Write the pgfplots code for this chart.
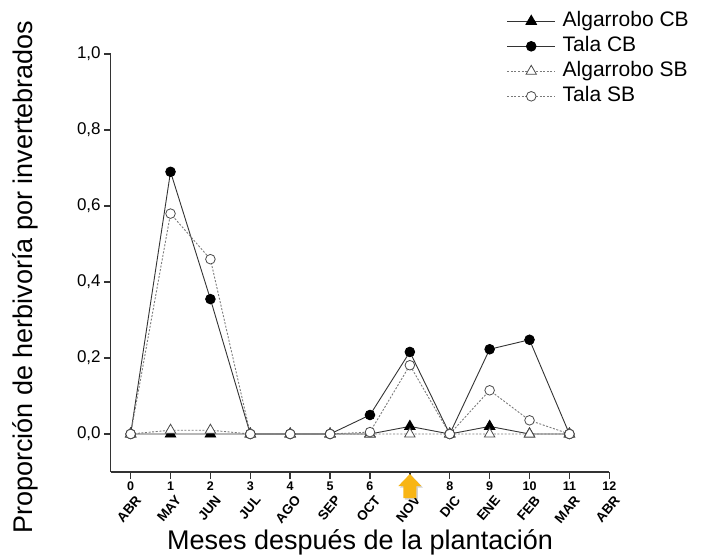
\documentclass[border=0pt]{standalone}
\usepackage{fontspec}
\setmainfont{Liberation Sans}
\usepackage{pgfplots}
\pgfplotsset{compat=1.18}
\definecolor{axisgray}{HTML}{333333}
\definecolor{sbgray}{HTML}{7A7A7A}
\definecolor{markgray}{HTML}{4A4A4A}
\definecolor{arrowgold}{HTML}{F8B514}

\begin{document}
\begin{tikzpicture}
\path[use as bounding box] (-110.7pt,-86pt) rectangle (594.3pt,472pt);
\begin{axis}[
  at={(0pt,0pt)}, anchor=south west,
  scale only axis, width=498.6pt, height=418pt,
  xmin=-0.5, xmax=12, ymin=-0.1, ymax=1.0,
  axis lines*=left,
  axis line style={axisgray, line width=1.6pt},
  tick align=outside,
  major tick length=6.5pt,
  tick style={axisgray, line width=1.4pt},
  xtick={0,...,12},
  xticklabels={0,1,2,3,4,5,6,{},8,9,10,11,12},
  xticklabel style={font=\bfseries\fontsize{12.5}{14}\selectfont, text=black},
  ytick={0,0.2,0.4,0.6,0.8,1.0},
  yticklabel style={font=\fontsize{17}{20}\selectfont, text=black,
    /pgf/number format/.cd, use comma, fixed, fixed zerofill, precision=1, assume math mode=true},
  extra x ticks={0,...,12},
  extra x tick labels={ABR,MAY,JUN,JUL,AGO,SEP,OCT,NOV,DIC,ENE,FEB,MAR,ABR},
  extra x tick style={major tick length=0pt,
    xticklabel style={xshift=10pt, yshift=-23pt, rotate=50, anchor=east,
      font=\bfseries\fontsize{13.5}{15}\selectfont}},
  xlabel={Meses después de la plantación},
  xlabel style={font=\fontsize{27}{30}\selectfont, at={(axis description cs:0.5,-0.186)}, anchor=base},
  ylabel={Proporción de herbivoría por invertebrados},
  ylabel style={font=\fontsize{27}{30}\selectfont, at={(axis description cs:-0.156,0.466)}, anchor=base, rotate=0},
  clip=false,
  legend style={at={(axis description cs:0.794,1.105)}, anchor=north west,
    draw=none, fill=none, inner sep=0pt,
    font=\fontsize{21}{24}\selectfont,
    nodes={inner sep=2pt, text height=14pt, text depth=4pt},
    /tikz/every odd column/.append style={column sep=5pt},
    row sep=3pt},
  legend cell align=left,
  legend image code/.code={%
    \draw[#1, mark repeat=2, mark phase=2] plot coordinates {(0pt,0pt) (24pt,0pt) (48pt,0pt)};},
]
% Algarrobo CB
\addplot[axisgray, line width=0.9pt, mark=triangle*, mark size=6pt,
  mark options={solid, fill=black, draw=black}]
  coordinates {(0,0) (1,0) (2,0) (3,0) (4,0) (5,0) (6,0) (7,0.02) (8,0) (9,0.02) (10,0) (11,0)};
\addlegendentry{Algarrobo CB}
% Tala CB
\addplot[axisgray, line width=0.9pt, mark=*, mark size=4.8pt,
  mark options={solid, fill=black, draw=black}]
  coordinates {(0,0) (1,0.69) (2,0.355) (3,0) (4,0) (5,0) (6,0.05) (7,0.216) (8,0) (9,0.223) (10,0.248) (11,0)};
\addlegendentry{Tala CB}
% Algarrobo SB
\addplot[sbgray, line width=0.9pt, dash pattern=on 2pt off 1.6pt, mark=triangle*, mark size=6pt,
  mark options={solid, fill=white, draw=markgray, line width=0.8pt}]
  coordinates {(0,0) (1,0.01) (2,0.01) (3,0) (4,0) (5,0) (6,0) (7,0) (8,0) (9,0) (10,0) (11,0)};
\addlegendentry{Algarrobo SB}
% Tala SB
\addplot[sbgray, line width=0.9pt, dash pattern=on 2pt off 1.6pt, mark=*, mark size=4.8pt,
  mark options={solid, fill=white, draw=markgray, line width=0.8pt}]
  coordinates {(0,0) (1,0.58) (2,0.46) (3,0) (4,0) (5,0) (6,0.005) (7,0.181) (8,0) (9,0.115) (10,0.036) (11,0)};
\addlegendentry{Tala SB}
\coordinate (arr) at (axis cs:7,-0.1);
\end{axis}
% marker arrow under month 7
\begin{scope}[shift={(arr)}]
  \fill[black, opacity=0.18, shift={(1.5pt,-1.5pt)}]
    (0,-2pt) -- (11.5pt,-14pt) -- (6.5pt,-14pt) -- (6.5pt,-26pt) -- (-6.5pt,-26pt) -- (-6.5pt,-14pt) -- (-11.5pt,-14pt) -- cycle;
  \fill[arrowgold]
    (0,-2pt) -- (11.5pt,-14pt) -- (6.5pt,-14pt) -- (6.5pt,-26pt) -- (-6.5pt,-26pt) -- (-6.5pt,-14pt) -- (-11.5pt,-14pt) -- cycle;
\end{scope}
\end{tikzpicture}
\end{document}
